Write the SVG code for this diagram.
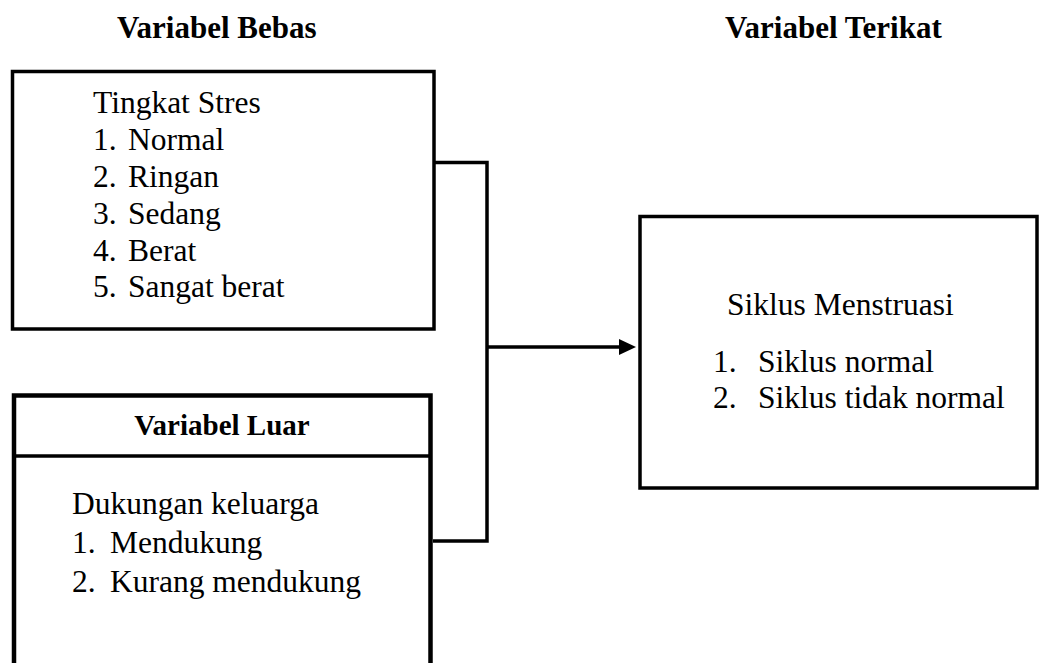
<svg xmlns="http://www.w3.org/2000/svg" width="1040" height="663" viewBox="0 0 1040 663">
<defs>
<style>
.box{fill:#fff;stroke:#000;stroke-width:3.5}
.thick{fill:#fff;stroke:#000;stroke-width:4.5}
.t{font-family:"Liberation Serif","Times New Roman",serif;font-size:31.5px;fill:#000}
.b{font-family:"Liberation Serif","Times New Roman",serif;font-size:31px;font-weight:bold;fill:#000}
.line{fill:none;stroke:#000;stroke-width:3.5}
</style>
<marker id="arr" markerWidth="10" markerHeight="10" refX="9" refY="5" orient="auto" markerUnits="userSpaceOnUse" viewBox="0 0 10 10">
<path d="M0,0 L10,5 L0,10 Z" fill="#000"/>
</marker>
</defs>
<rect width="1040" height="663" fill="#fff"/>
<g id="headings">
<text class="b" x="117" y="38">Variabel Bebas</text>
<text class="b" x="725" y="38">Variabel Terikat</text>
</g>
<g id="connectors">
<polyline class="line" points="434,162.5 487,162.5 487,541 433,541"/>
<line class="line" x1="487" y1="347" x2="624" y2="347"/>
<path d="M619,339 L636,347 L619,355 Z" fill="#000"/>
</g>
<g id="tingkat-stres">
<rect class="box" x="12.5" y="71.5" width="421.5" height="257.5"/>
<text class="t" x="93" y="113">Tingkat Stres</text>
<text class="t" y="150"><tspan x="93">1.</tspan><tspan x="128">Normal</tspan></text>
<text class="t" y="187"><tspan x="93">2.</tspan><tspan x="128">Ringan</tspan></text>
<text class="t" y="224"><tspan x="93">3.</tspan><tspan x="128">Sedang</tspan></text>
<text class="t" y="261"><tspan x="93">4.</tspan><tspan x="128">Berat</tspan></text>
<text class="t" y="297"><tspan x="93">5.</tspan><tspan x="128">Sangat berat</tspan></text>
</g>
<g id="variabel-luar">
<rect class="thick" x="14" y="395.5" width="416.5" height="290"/>
<line x1="14" y1="456" x2="430.5" y2="456" stroke="#000" stroke-width="3.5"/>
<text class="b" x="222" y="435" text-anchor="middle" style="font-size:29px">Variabel Luar</text>
<text class="t" x="72" y="514">Dukungan keluarga</text>
<text class="t" y="553"><tspan x="72">1.</tspan><tspan x="110">Mendukung</tspan></text>
<text class="t" y="592"><tspan x="72">2.</tspan><tspan x="110">Kurang mendukung</tspan></text>
</g>
<g id="siklus-menstruasi">
<rect class="box" x="640" y="216.5" width="397" height="271.5"/>
<text class="t" x="727" y="315">Siklus Menstruasi</text>
<text class="t" y="372"><tspan x="713">1.</tspan><tspan x="758">Siklus normal</tspan></text>
<text class="t" y="408"><tspan x="713">2.</tspan><tspan x="758">Siklus tidak normal</tspan></text>
</g>
</svg>
